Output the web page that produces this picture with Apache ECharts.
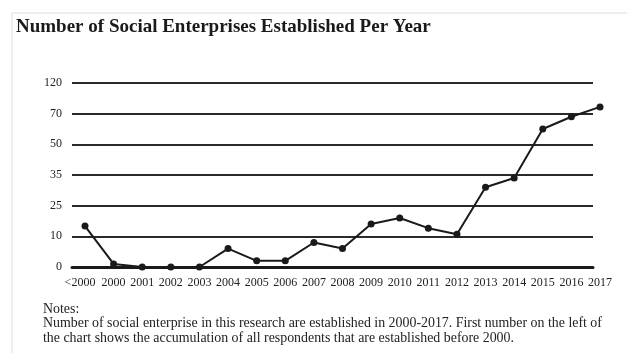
<!DOCTYPE html>
<html lang="en">
<head>
    <meta charset="utf-8">
    <title>Number of Social Enterprises Established Per Year</title>
    <script src="https://cdn.jsdelivr.net/npm/echarts@6/dist/echarts.min.js"></script>
    <style>
        html, body {
            margin: 0;
            padding: 0;
            background: #ffffff;
        }
        #main {
            width: 627px;
            height: 353px;
        }
    </style>
</head>
<body>
<div id="main"></div>
<script>
    // years on the x axis
    var years = ['<2000', '2000', '2001', '2002', '2003', '2004', '2005', '2006', '2007', '2008',
        '2009', '2010', '2011', '2012', '2013', '2014', '2015', '2016', '2017'];
    // number of enterprises established
    var counts = [15, 1, 0, 0, 0, 6, 2, 2, 8, 6, 16, 19, 14, 11, 31, 34, 60, 68, 81];
    // y tick labels, drawn evenly spaced as in the original
    var yTicks = [0, 10, 25, 35, 50, 70, 120];

    // the y axis spaces its labels evenly, so place a value between its two neighbouring ticks
    function tickPos(v) {
        for (var i = 1; i < yTicks.length; i++) {
            if (v <= yTicks[i]) {
                return (i - 1) + (v - yTicks[i - 1]) / (yTicks[i] - yTicks[i - 1]);
            }
        }
        return yTicks.length - 1;
    }

    var font = '"Liberation Serif", "Times New Roman", serif';
    var myChart = echarts.init(document.getElementById('main'), null, {renderer: 'canvas'});

    var option = {
        animation: false,
        backgroundColor: '#ffffff',
        title: {
            text: 'Number of Social Enterprises Established Per Year',
            left: 16,
            top: 18,
            padding: 0,
            textStyle: {
                fontFamily: font,
                fontWeight: 'bold',
                fontSize: 19,
                color: '#1a1a1a'
            }
        },
        graphic: [
            {
                type: 'rect',
                shape: {x: 12, y: 13, width: 700, height: 400},
                style: {fill: 'none', stroke: '#dddddd', lineWidth: 1},
                silent: true
            },
            {
                type: 'text',
                left: 43,
                top: 302,
                style: {
                    text: 'Notes:\nNumber of social enterprise in this research are established in 2000-2017. First number on the left of\nthe chart shows the accumulation of all respondents that are established before 2000.',
                    font: '13.9px ' + font,
                    lineHeight: 14.5,
                    fill: '#222222'
                }
            }
        ],
        grid: [
            {left: 72, right: 34, top: 83, bottom: 86},
            {left: 85, right: 27, top: 83, bottom: 86}
        ],
        xAxis: [
            {
                gridIndex: 0,
                type: 'category',
                data: years,
                boundaryGap: false,
                axisLine: {show: true, lineStyle: {color: '#1a1a1a', width: 3}},
                axisTick: {show: false},
                axisLabel: {show: false}
            },
            {
                gridIndex: 1,
                type: 'category',
                data: years,
                boundaryGap: false,
                axisLine: {show: false},
                axisTick: {show: false},
                axisLabel: {
                    interval: 0,
                    margin: 10,
                    fontFamily: font,
                    fontSize: 12,
                    color: '#222222',
                    // the first label sits a little left of its point, as in the original
                    formatter: function (v, i) {
                        return i === 0 ? '{first|' + v + '}' : v;
                    },
                    rich: {
                        first: {
                            fontFamily: font,
                            fontSize: 12,
                            color: '#222222',
                            padding: [0, 10, 0, 0]
                        }
                    }
                }
            }
        ],
        yAxis: [
            {
                gridIndex: 0,
                type: 'value',
                min: 0,
                max: yTicks.length - 1,
                interval: 1,
                axisLine: {show: false},
                axisTick: {show: false},
                axisLabel: {
                    margin: 10,
                    fontFamily: font,
                    fontSize: 12,
                    color: '#222222',
                    formatter: function (v) {
                        return yTicks[Math.round(v)];
                    }
                },
                splitLine: {lineStyle: {color: '#2a2a2a', width: 2}}
            },
            {
                gridIndex: 1,
                type: 'value',
                min: 0,
                max: yTicks.length - 1,
                interval: 1,
                show: false,
                splitLine: {show: false}
            }
        ],
        series: [
            {
                name: 'Established',
                type: 'line',
                xAxisIndex: 1,
                yAxisIndex: 1,
                data: counts.map(tickPos),
                symbol: 'circle',
                symbolSize: 7,
                itemStyle: {color: '#1a1a1a'},
                lineStyle: {color: '#1a1a1a', width: 2}
            }
        ]
    };
    myChart.setOption(option);
</script>
</body>
</html>
